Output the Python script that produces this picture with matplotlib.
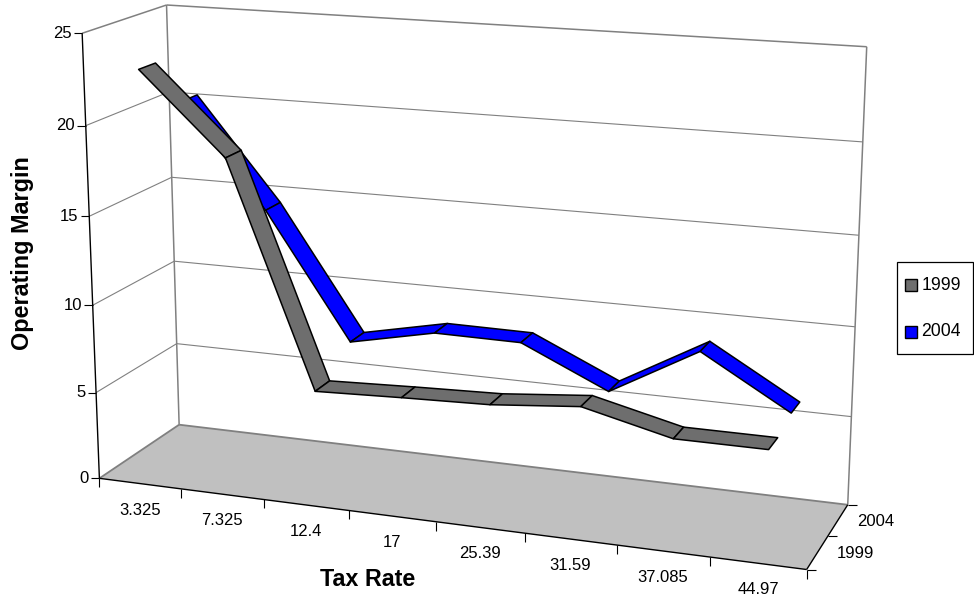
import numpy as np
import matplotlib
matplotlib.use("Agg")
import matplotlib.pyplot as plt
from matplotlib.patches import Polygon, Rectangle

plt.rcParams["font.family"] = ["Liberation Sans", "DejaVu Sans"]

tax_rate = ["3.325", "7.325", "12.4", "17", "25.39", "31.59", "37.085", "44.97"]
years = ["1999", "2004"]
margin_1999 = [22.95, 18.48, 5.98, 6.17, 6.33, 6.78, 5.60, 5.60]
margin_2004 = [20.27, 14.46, 7.35, 8.37, 8.33, 6.10, 8.86, 6.00]
value_ticks = [0, 5, 10, 15, 20, 25]

GREY = "#6E6E6E"
BLUE = "#0000FF"
WALL = "#808080"
VMAX = 25.0
NX, ND = len(tax_rate), len(years)
HALF_DEPTH = 0.2   # half width of a ribbon, in depth units

# box corners on the canvas, used to fit the 3d camera
BOX = [((0, 0, 0), (99.5, 478.5)), ((0, 1, 0), (179, 424.5)),
       ((1, 1, 0), (847.7, 505)), ((1, 0, 0), (806.7, 569.3)),
       ((0, 1, 1), (166.7, 5)), ((0, 0, 1), (82, 33.3)),
       ((1, 1, 1), (866.7, 46.7))]


def fit_camera(box):
    rows = []
    for (X, Y, Z), (u, v) in box:
        rows.append([X, Y, Z, 1, 0, 0, 0, 0, -u * X, -u * Y, -u * Z, -u])
        rows.append([0, 0, 0, 0, X, Y, Z, 1, -v * X, -v * Y, -v * Z, -v])
    return np.linalg.svd(np.array(rows, float))[2][-1].reshape(3, 4)


CAM = fit_camera(BOX)


def proj(x, d, val):
    """x in categories, d in series depth, val in axis units -> canvas px."""
    h = CAM @ np.array([x / NX, d / ND, val / VMAX, 1.0])
    return h[0] / h[2], h[1] / h[2]


fig = plt.figure(figsize=(9.74, 6.02), dpi=100)
ax = fig.add_axes([0, 0, 1, 1])
ax.set_xlim(0, 974)
ax.set_ylim(602, 0)
ax.axis("off")


def seg(p, q, color, lw, z=2):
    ax.plot([p[0], q[0]], [p[1], q[1]], color=color, lw=lw, zorder=z,
            solid_capstyle="butt")


# floor
floor = [proj(0, 0, 0), proj(0, ND, 0), proj(NX, ND, 0), proj(NX, 0, 0)]
ax.add_patch(Polygon(floor, fc="#C0C0C0", ec="none", zorder=1))

# gridlines on the two walls
for v in value_ticks[1:-1]:
    seg(proj(0, 0, v), proj(0, ND, v), WALL, 0.8)
    seg(proj(0, ND, v), proj(NX, ND, v), WALL, 0.8)

# wall outlines
seg(proj(0, 0, 0), proj(0, ND, 0), WALL, 1.3)
seg(proj(0, ND, 0), proj(NX, ND, 0), WALL, 1.3)
seg(proj(0, 0, VMAX), proj(0, ND, VMAX), WALL, 1.1)
seg(proj(0, ND, VMAX), proj(NX, ND, VMAX), WALL, 1.1)
seg(proj(0, ND, 0), proj(0, ND, VMAX), WALL, 1.1)
seg(proj(NX, ND, 0), proj(NX, ND, VMAX), WALL, 1.1)

# black axes
seg(proj(0, 0, 0), proj(0, 0, VMAX), "k", 1.0, 3)
seg(proj(0, 0, 0), proj(NX, 0, 0), "k", 1.0, 3)
seg(proj(NX, 0, 0), proj(NX, ND, 0), "k", 1.0, 3)

# value axis ticks and labels
for v in value_ticks:
    px, py = proj(0, 0, v)
    seg((px - 8.5, py), (px, py), "k", 0.8, 3)
    ax.text(px - 10.5, py, str(v), ha="right", va="center", fontsize=12)

# category ticks and labels
for i in range(NX + 1):
    px, py = proj(i, 0, 0)
    seg((px, py), (px, py + 9), "k", 0.8, 3)
for i, lab in enumerate(tax_rate):
    px, py = proj(i + 0.5, 0, 0)
    ax.text(px, py + 26.5, lab, ha="center", va="center", fontsize=12)

# depth ticks and labels
for j in range(ND + 1):
    px, py = proj(NX, j, 0)
    seg((px, py), (px + 9, py), "k", 0.8, 3)
for j, lab in enumerate(years):
    px, py = proj(NX, j + 0.5, 0)
    ax.text(px + 38, py + 1.5, lab, ha="center", va="center", fontsize=12)

# ribbons, back series first so the front one overlaps it
for j, vals, col in [(1, margin_2004, BLUE), (0, margin_1999, GREY)]:
    d0, d1 = j + 0.5 - HALF_DEPTH, j + 0.5 + HALF_DEPTH
    for i in range(NX - 1):
        quad = [proj(i + 0.5, d0, vals[i]), proj(i + 0.5, d1, vals[i]),
                proj(i + 1.5, d1, vals[i + 1]), proj(i + 1.5, d0, vals[i + 1])]
        ax.add_patch(Polygon(quad, fc=col, ec="k", lw=1.1, joinstyle="round",
                             zorder=4 + (1 - j)))

# axis titles
ax.text(23, 253, "Operating Margin", rotation=90, ha="center", va="center",
        fontsize=16.8, fontweight="bold")
ax.text(368, 579.5, "Tax Rate", ha="center", va="center",
        fontsize=16.8, fontweight="bold")

# legend
ax.add_patch(Rectangle((896.7, 261.7), 76, 92.3, fc="white", ec="k", lw=0.9, zorder=6))
for lab, col, sy in zip(years, [GREY, BLUE], [285, 332]):
    ax.add_patch(Rectangle((905, sy - 5.8), 11.6, 11.6, fc=col, ec="k", lw=1.0, zorder=7))
    ax.text(921.5, sy, lab, ha="left", va="center", fontsize=12.7, zorder=7)

fig.savefig("out.png", dpi=100)
